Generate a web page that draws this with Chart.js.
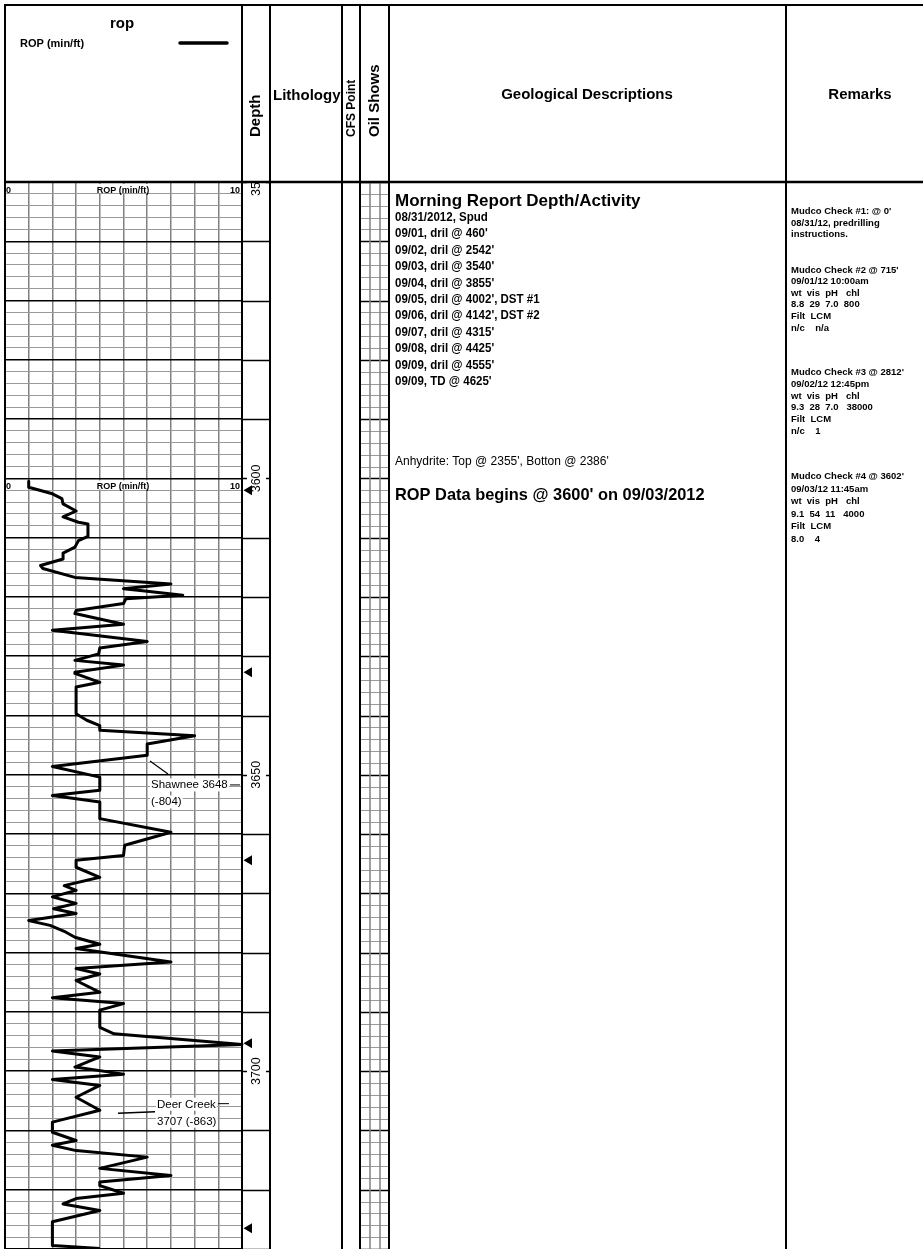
<!DOCTYPE html>
<html>
<head>
<meta charset="utf-8">
<script src="https://cdn.jsdelivr.net/npm/chart.js@4.4.1/dist/chart.umd.min.js"></script>
<style>
  html, body { margin: 0; padding: 0; background: #fff; }
  #wrap { position: relative; width: 923px; height: 1249px; }
</style>
</head>
<body>
<div id="wrap"><canvas id="log"></canvas></div>
<script>
// ROP curve (depth in ft, ROP in min/ft)
const ropDepths = [
  3600.5, 3601.5, 3602.6, 3603.4, 3604.3, 3605.5, 3606.5, 3607.4, 3607.7, 3609.8,
  3610.5, 3611.6, 3612.6, 3613.6, 3614.7, 3615.2, 3616.7, 3617.8, 3618.6, 3619.0,
  3619.7, 3620.3, 3621.1, 3622.3, 3622.8, 3624.6, 3625.6, 3627.5, 3628.6, 3629.6,
  3630.7, 3631.5, 3632.7, 3632.9, 3634.4, 3635.2, 3639.7, 3640.8, 3641.7, 3642.5,
  3643.4, 3644.8, 3646.7, 3648.6, 3650.4, 3652.6, 3653.5, 3654.6, 3657.4, 3659.7,
  3661.9, 3663.6, 3664.4, 3665.6, 3667.3, 3668.7, 3669.5, 3670.6, 3671.7, 3672.6,
  3673.4, 3674.6, 3675.4, 3676.4, 3677.4, 3678.6, 3679.3, 3681.6, 3682.7, 3683.6,
  3684.7, 3686.7, 3687.6, 3688.6, 3689.7, 3692.6, 3693.7, 3695.5, 3696.6, 3697.1,
  3697.6, 3699.3, 3700.5, 3701.4, 3702.4, 3704.4, 3706.6, 3708.6, 3710.3, 3711.7,
  3712.5, 3713.4, 3714.5, 3716.4, 3717.6, 3718.7, 3719.3, 3720.6, 3721.5, 3722.4,
  3723.5, 3725.4, 3729.4, 3729.9
];
const ropValues = [
  1.0, 1.0, 2.0, 2.4, 2.45, 3.0, 2.45, 3.1, 3.5, 3.5,
  3.1, 2.95, 2.45, 2.45, 1.5, 1.6, 2.95, 7.0, 5.0, 5.9,
  7.5, 5.1, 5.0, 3.0, 2.95, 5.0, 2.0, 6.0, 4.0, 3.95,
  2.95, 5.0, 2.95, 2.95, 4.0, 3.0, 3.0, 3.45, 4.0, 4.0,
  8.0, 6.0, 6.0, 2.0, 4.0, 4.0, 2.0, 4.0, 4.0, 7.0,
  5.05, 5.0, 3.0, 3.0, 4.0, 2.5, 3.0, 2.0, 3.0, 2.05,
  3.0, 1.0, 1.9, 2.5, 2.95, 4.0, 3.0, 7.0, 3.0, 4.0,
  3.0, 4.0, 2.0, 5.0, 4.0, 4.0, 4.6, 10.0, 2.0, 3.0,
  4.0, 2.95, 5.0, 2.0, 4.0, 3.0, 4.0, 2.0, 2.0, 3.0,
  2.0, 3.0, 6.0, 4.0, 7.0, 4.0, 4.0, 5.0, 3.0, 2.45,
  4.0, 2.0, 2.0, 4.0
];
const depthLabels = [3550, 3600, 3650, 3700];
const trackHeaderDepths = [3550, 3600];
const markerDepths = [3602, 3632.7, 3664.4, 3695.3, 3726.5];
const topNames = ['Shawnee 3648', 'Deer Creek'];
const topSubs = ['(-804)', '3707 (-863)'];
const topDepths = [3648, 3707];

const morningTitle = 'Morning Report Depth/Activity';
const morningLines = [
  '08/31/2012, Spud',
  "09/01, dril @ 460'",
  "09/02, dril @ 2542'",
  "09/03, dril @ 3540'",
  "09/04, dril @ 3855'",
  "09/05, dril @ 4002', DST #1",
  "09/06, dril @ 4142', DST #2",
  "09/07, dril @ 4315'",
  "09/08, dril @ 4425'",
  "09/09, dril @ 4555'",
  "09/09, TD @ 4625'"
];
const anhydriteNote = "Anhydrite: Top @ 2355', Botton @ 2386'";
const ropNote = "ROP Data begins @ 3600' on 09/03/2012";
const mudChecks = [
  ["Mudco Check #1: @ 0'", '08/31/12, predrilling', 'instructions.'],
  ["Mudco Check #2 @ 715'", '09/01/12 10:00am', 'wt  vis  pH   chl', '8.8  29  7.0  800', 'Filt  LCM', 'n/c    n/a'],
  ["Mudco Check #3 @ 2812'", '09/02/12 12:45pm', 'wt  vis  pH   chl', '9.3  28  7.0   38000', 'Filt  LCM', 'n/c    1'],
  ["Mudco Check #4 @ 3602'", '09/03/12 11:45am', 'wt  vis  pH   chl', '9.1  54  11   4000', 'Filt  LCM', '8.0    4']
];

const FF = '"Liberation Sans", Arial, sans-serif';

function txt(ctx, s, x, y, font, o) {
  o = o || {};
  ctx.save();
  ctx.font = font;
  ctx.fillStyle = '#000';
  ctx.textAlign = o.align || 'left';
  ctx.textBaseline = o.base || 'alphabetic';
  ctx.translate(x, y);
  if (o.rot) ctx.rotate(-Math.PI / 2);
  if (o.sx) ctx.scale(o.sx, 1);
  ctx.fillText(s, 0, 0);
  ctx.restore();
}

function vline(ctx, x, y0, y1, w, c) {
  ctx.beginPath(); ctx.strokeStyle = c || '#000'; ctx.lineWidth = w;
  ctx.moveTo(x, y0); ctx.lineTo(x, y1); ctx.stroke();
}
function hline(ctx, y, x0, x1, w, c) {
  ctx.beginPath(); ctx.strokeStyle = c || '#000'; ctx.lineWidth = w;
  ctx.moveTo(x0, y); ctx.lineTo(x1, y); ctx.stroke();
}

const logPlugin = {
  id: 'logSheet',
  beforeDraw(chart) {
    const ctx = chart.ctx;
    ctx.save();
    ctx.fillStyle = '#fff';
    ctx.fillRect(0, 0, chart.width, chart.height);
    ctx.restore();
  },
  afterDraw(chart) {
    const ctx = chart.ctx;
    const ys = chart.scales.y;
    const top = chart.chartArea.top, bot = chart.height;
    const W = chart.width;
    ctx.save();

    // depth column: 10 ft lines, ticks where a label sits
    for (let d = 3550; d <= 3730; d += 10) {
      const y = Math.round(ys.getPixelForValue(d)) + 0.5;
      if (d % 50 === 0) {
        hline(ctx, y, 242, 247, 1.5);
        hline(ctx, y, 266, 270, 1.5);
      } else {
        hline(ctx, y, 242, 270, 1.5);
      }
    }

    // oil shows grid
    for (let d = 3550; d <= 3730; d += 2) {
      const y = Math.round(ys.getPixelForValue(d)) + 0.5;
      if (d % 10 === 0) hline(ctx, y, 360, 389, 1.5, '#000');
      else hline(ctx, y, 360, 389, 1, '#999');
    }
    vline(ctx, 370, top, bot, 1.5, '#808080');
    vline(ctx, 380, top, bot, 1.5, '#808080');

    // depth labels
    ctx.save();
    ctx.beginPath(); ctx.rect(242, top + 1, 28, bot - top); ctx.clip();
    depthLabels.forEach(d => {
      txt(ctx, String(d), 257, ys.getPixelForValue(d), '12.5px ' + FF, {rot: true, align: 'center', base: 'middle'});
    });
    ctx.restore();

    // column borders and frame
    [5, 242, 270, 342, 360, 389, 786].forEach(x => vline(ctx, x, 4, bot, 2));
    hline(ctx, 5, 4, W, 2);
    hline(ctx, top, 4, W, 2.5);

    // header texts
    txt(ctx, 'rop', 122, 28, 'bold 15px ' + FF, {align: 'center'});
    txt(ctx, 'ROP (min/ft)', 20, 47, 'bold 11px ' + FF);
    ctx.beginPath(); ctx.strokeStyle = '#000'; ctx.lineWidth = 3.5; ctx.lineCap = 'round';
    ctx.moveTo(180, 43); ctx.lineTo(227, 43); ctx.stroke(); ctx.lineCap = 'butt';
    txt(ctx, 'Depth', 256, 137, 'bold 15px ' + FF, {rot: true, base: 'middle'});
    txt(ctx, 'Lithology', 273, 100, 'bold 15px ' + FF);
    txt(ctx, 'CFS Point', 352, 137, 'bold 12px ' + FF, {rot: true, base: 'middle'});
    txt(ctx, 'Oil Shows', 375, 137, 'bold 15px ' + FF, {rot: true, base: 'middle'});
    txt(ctx, 'Geological Descriptions', 587, 99, 'bold 15px ' + FF, {align: 'center'});
    txt(ctx, 'Remarks', 860, 99, 'bold 15px ' + FF, {align: 'center'});

    // scale headers inside the ROP track
    trackHeaderDepths.forEach(d => {
      const y = ys.getPixelForValue(d);
      const f = 'bold 9px ' + FF;
      ctx.font = f;
      const w = ctx.measureText('ROP (min/ft)').width;
      ctx.fillStyle = '#fff';
      ctx.fillRect(123 - w / 2 - 1, y + 2, w + 2, 9);
      txt(ctx, '0', 6, y + 10.5, f);
      txt(ctx, 'ROP (min/ft)', 123, y + 10.5, f, {align: 'center'});
      txt(ctx, '10', 240, y + 10.5, f, {align: 'right'});
    });

    // connection markers
    markerDepths.forEach(d => {
      const y = ys.getPixelForValue(d);
      ctx.beginPath(); ctx.fillStyle = '#000';
      ctx.moveTo(243.5, y); ctx.lineTo(252, y - 5); ctx.lineTo(252, y + 5); ctx.closePath(); ctx.fill();
    });

    // formation tops
    const tf = '11.5px ' + FF;
    const boxText = (s, x, y) => {
      ctx.font = tf;
      const w = ctx.measureText(s).width;
      ctx.fillStyle = '#fff';
      ctx.fillRect(x - 1, y - 10, w + 2, 13);
      txt(ctx, s, x, y, tf);
    };
    {
      const y = ys.getPixelForValue(topDepths[0]);
      ctx.beginPath(); ctx.strokeStyle = '#000'; ctx.lineWidth = 1.2;
      ctx.moveTo(150, y - 2); ctx.lineTo(168, y + 11); ctx.stroke();
      boxText(topNames[0], 151, y + 25.5);
      boxText(topSubs[0], 151, y + 42.5);
      hline(ctx, y + 22, 230, 240, 1);
    }
    {
      const y = ys.getPixelForValue(topDepths[1]);
      ctx.beginPath(); ctx.strokeStyle = '#000'; ctx.lineWidth = 1.5;
      ctx.moveTo(118, y + 0.5); ctx.lineTo(155, y - 1); ctx.stroke();
      boxText(topNames[1], 157, y - 5);
      boxText(topSubs[1], 157, y + 12);
      hline(ctx, y - 9, 218, 229, 1);
    }

    // geological descriptions
    txt(ctx, morningTitle, 395, 206, 'bold 17px ' + FF);
    morningLines.forEach((s, i) => txt(ctx, s, 395, 221 + i * 16.4, 'bold 12px ' + FF, {sx: 0.96}));
    txt(ctx, anhydriteNote, 395, 465, '12px ' + FF);
    txt(ctx, ropNote, 395, 500, 'bold 16.4px ' + FF);

    // remarks
    const starts = [214, 272.5, 375, 479];
    const pitch = [11.5, 11.6, 11.8, 12.6];
    mudChecks.forEach((blk, b) => {
      blk.forEach((s, i) => txt(ctx, s, 791, starts[b] + i * pitch[b], 'bold 9.5px ' + FF));
    });

    ctx.restore();
  }
};

new Chart(document.getElementById('log'), {
  type: 'scatter',
  data: {
    datasets: [{
      label: 'ROP (min/ft)',
      data: ropDepths.map((d, i) => ({x: ropValues[i], y: d})),
      showLine: true,
      borderColor: '#000',
      borderWidth: 3,
      borderJoinStyle: 'round',
      pointRadius: 0,
      tension: 0,
      clip: 4
    }]
  },
  options: {
    responsive: true,
    maintainAspectRatio: false,
    animation: false,
    layout: { padding: { left: 5, right: 681, top: 182, bottom: 0 } },
    plugins: { legend: { display: false }, tooltip: { enabled: false } },
    scales: {
      x: {
        type: 'linear', min: 0, max: 10,
        ticks: { display: false, stepSize: 1 },
        border: { display: false },
        grid: { drawTicks: false, color: '#808080', lineWidth: 1.5 }
      },
      y: {
        type: 'linear', min: 3550, max: 3730, reverse: true,
        ticks: { display: false, stepSize: 2, autoSkip: false, maxTicksLimit: 1000 },
        border: { display: false },
        grid: {
          drawTicks: false,
          color: c => (c.tick && c.tick.value % 10 === 0) ? '#000' : '#999',
          lineWidth: c => (c.tick && c.tick.value % 10 === 0) ? 1.5 : 1
        }
      }
    }
  },
  plugins: [logPlugin]
});
</script>
</body>
</html>
